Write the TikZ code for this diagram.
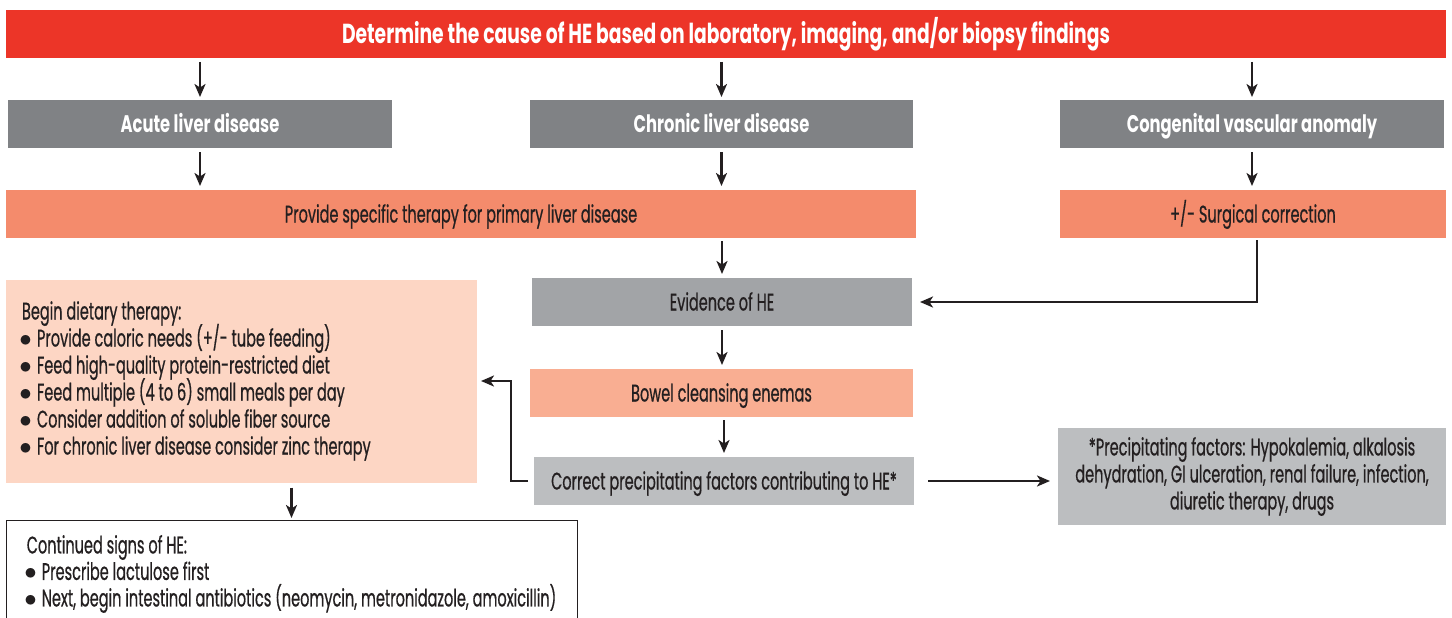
\documentclass[tikz,border=0pt]{standalone}
\usepackage{fontspec}
\setmainfont{Poppins}[FakeStretch=0.605,FakeBold=0.6,BoldFeatures={FakeStretch=0.68,FakeBold=0}]
\usetikzlibrary{arrows.meta,calc}
\definecolor{cred}{HTML}{EC3528}
\definecolor{cdgray}{HTML}{808285}
\definecolor{corange}{HTML}{F48B6C}
\definecolor{cmgray}{HTML}{A2A4A7}
\definecolor{cpeach}{HTML}{F9AE92}
\definecolor{clgray}{HTML}{BCBEC0}
\definecolor{cpale}{HTML}{FDD6C4}
\definecolor{ctext}{HTML}{231F20}
\newcommand\bul{\makebox[15pt][l]{\hspace{-2.5pt}$\bullet$}}
\newcommand\tightls{\lineskiplimit=-50pt\relax}
\begin{document}
\begin{tikzpicture}[x=1pt,y=-1pt,
  box/.style={rectangle, inner sep=0pt, outer sep=0pt, text=ctext, font=\fontsize{24}{27}\selectfont\tightls, align=center},
  one/.style={text height=22pt, text depth=5pt},
  hdbox/.style={box, one, text=white, font=\fontsize{24}{27}\selectfont\bfseries},
  arr/.style={line width=2.3pt, draw=ctext, -{Stealth[length=13pt,width=11pt,inset=3.5pt]}},
]
\useasboundingbox (0,0) rectangle (1452,618);
\node[hdbox, fill=cred, minimum width=1440, minimum height=48, font=\fontsize{27.5}{30}\selectfont\bfseries, text height=25pt, text depth=5pt] (top) at (726,34) {Determine the cause of HE based on laboratory, imaging, and/or biopsy findings};
\node[hdbox, fill=cdgray, minimum width=384, minimum height=48] (acute) at (200,124) {Acute liver disease};
\node[hdbox, fill=cdgray, minimum width=383, minimum height=48] (chronic) at (721.5,124) {Chronic liver disease};
\node[hdbox, fill=cdgray, minimum width=384, minimum height=48] (cong) at (1252,124) {Congenital vascular anomaly};
\node[box, one, fill=corange, minimum width=910, minimum height=48] (provide) at (461,214) {Provide specific therapy for primary liver disease};
\node[box, one, fill=corange, minimum width=386, minimum height=48] (surg) at (1253,214) {+/- Surgical correction};
\node[box, one, fill=cmgray, minimum width=380, minimum height=48] (evid) at (722,302) {Evidence of HE};
\node[box, one, fill=cpeach, minimum width=383, minimum height=48] (bowel) at (721.5,393) {Bowel cleansing enemas};
\node[box, one, fill=clgray, minimum width=380, minimum height=48] (corr) at (724,481) {Correct precipitating factors contributing to HE*};
\node[box, fill=clgray, minimum width=388, minimum height=97] (prec) at (1252,476.5) {*Precipitating factors: Hypokalemia, alkalosis\\dehydration, GI ulceration, renal failure, infection,\\diuretic therapy, drugs};
\node[box, fill=cpale, minimum width=471, minimum height=203, align=flush left, text width=439, inner xsep=16pt] (diet) at (241.5,381) {Begin dietary therapy:\\
\bul Provide caloric needs (+/- tube feeding)\\
\bul Feed high-quality protein-restricted diet\\
\bul Feed multiple (4 to 6) small meals per day\\
\bul Consider addition of soluble fiber source\\
\bul For chronic liver disease consider zinc therapy};
\node[box, draw=ctext, line width=1pt, fill=white, minimum width=571, minimum height=108, align=left, anchor=north west, font=\fontsize{24}{26.5}\selectfont\tightls] (cont) at (6,520) {Continued signs of HE:\\
\bul Prescribe lactulose first\\
\bul Next, begin intestinal antibiotics (neomycin, metronidazole, amoxicillin)};
% connectors
\draw[arr, shorten <=4pt, shorten >=3pt] (acute.north |- top.south) -- (acute.north);
\draw[arr, shorten <=4pt, shorten >=3pt] (chronic.north |- top.south) -- (chronic.north);
\draw[arr, shorten <=4pt, shorten >=3pt] (cong.north |- top.south) -- (cong.north);
\draw[arr, shorten <=4pt, shorten >=4pt] (acute.south) -- (acute.south |- provide.north);
\draw[arr, shorten <=4pt, shorten >=4pt] (chronic.south) -- (chronic.south |- provide.north);
\draw[arr, shorten <=4pt, shorten >=4pt] (cong.south) -- (cong.south |- surg.north);
\draw[arr, shorten <=3pt, shorten >=4pt] (evid.north |- provide.south) -- (evid.north);
\draw[arr, shorten <=2pt, shorten >=8pt] ($(surg.south)+(4,0)$) |- (evid.east);
\draw[arr, shorten <=4pt, shorten >=4pt] (evid.south) -- (evid.south |- bowel.north);
\draw[arr, shorten <=3pt, shorten >=4pt] (corr.north |- bowel.south) -- (corr.north);
\draw[arr, shorten <=6pt, shorten >=4pt] (corr.west) -- ++(-23,0) |- (diet.east);
\draw[arr, shorten <=14pt, shorten >=8pt] (corr.east) -- (corr.east -| prec.west);
\draw[arr, shorten <=5pt, shorten >=2pt] (cont.north |- diet.south) -- (cont.north);
\end{tikzpicture}
\end{document}
